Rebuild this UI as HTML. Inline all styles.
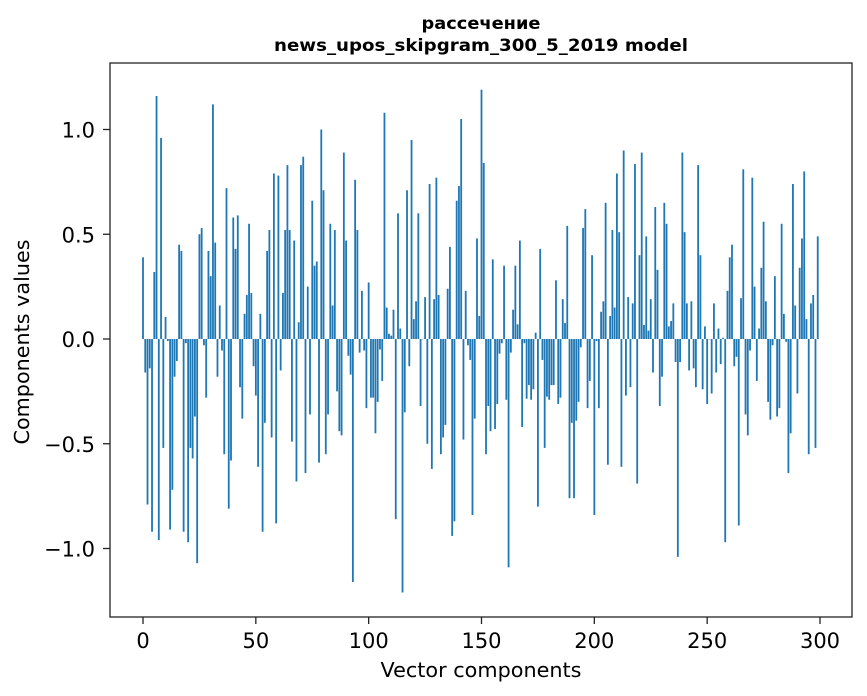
<!DOCTYPE html>
<html><head><meta charset="utf-8"><style>
html,body{margin:0;padding:0;background:#fff;}
svg{display:block;font-family:"DejaVu Sans","Liberation Sans",sans-serif;}
</style></head><body>
<svg id="chart" width="867" height="696" viewBox="0 0 867 696" xmlns="http://www.w3.org/2000/svg">
<rect x="0" y="0" width="867" height="696" fill="#fff"/>
<text x="481" y="29" text-anchor="middle" font-size="17" font-weight="bold" textLength="119" lengthAdjust="spacingAndGlyphs">рассечение</text>
<text x="481" y="51" text-anchor="middle" font-size="17" font-weight="bold" textLength="414" lengthAdjust="spacingAndGlyphs">news_upos_skipgram_300_5_2019 model</text>
<g id="bars"></g>
<g id="axes"></g>
<rect x="110" y="63" width="742" height="554" fill="none" stroke="#222" stroke-width="1.3"/>
<text x="481" y="677" text-anchor="middle" font-size="20" textLength="201" lengthAdjust="spacingAndGlyphs">Vector components</text>
<text x="29" y="342" text-anchor="middle" font-size="20" textLength="205" lengthAdjust="spacingAndGlyphs" transform="rotate(-90 29 342)">Components values</text>
</svg>
<script>
const values = [
0.39,-0.16,-0.79,-0.14,-0.92,0.32,1.16,-0.96,0.96,-0.52,
0.105,-0.01,-0.91,-0.72,-0.18,-0.105,0.45,0.42,-0.92,-0.02,
-0.97,-0.52,-0.57,-0.37,-1.07,0.50,0.53,-0.03,-0.28,0.42,
0.30,1.12,0.46,-0.18,0.16,-0.055,-0.55,0.72,-0.81,-0.58,
0.58,0.43,0.59,-0.23,-0.38,0.12,0.21,0.55,0.22,-0.13,
-0.27,-0.61,0.12,-0.92,-0.40,0.42,0.52,-0.47,0.79,-0.88,
0.78,-0.15,0.22,0.52,0.83,0.52,-0.49,0.47,-0.68,0.08,
0.83,0.87,-0.64,0.25,-0.36,0.66,0.35,0.37,-0.59,1.00,
0.71,-0.55,-0.36,0.55,0.16,0.52,-0.25,-0.44,-0.46,0.89,
0.47,-0.08,-0.17,-1.16,0.76,0.52,-0.065,0.23,-0.055,-0.33,
0.27,-0.28,-0.28,-0.45,-0.30,-0.05,-0.20,1.08,0.15,0.025,
0.016,0.14,-0.86,0.60,0.05,-1.21,-0.35,0.71,-0.13,0.95,
0.095,0.18,0.60,-0.32,0.0,0.20,-0.50,0.74,-0.62,0.19,
0.77,0.21,-0.55,-0.47,-0.41,0.24,0.44,-0.94,-0.87,0.66,
0.73,1.05,-0.48,0.23,-0.03,-0.10,-0.84,-0.38,0.48,0.11,
1.19,0.84,-0.55,-0.32,-0.44,0.38,-0.43,-0.31,-0.07,-0.02,
0.35,-0.29,-1.09,-0.065,0.14,0.35,0.07,0.47,-0.42,-0.02,
-0.285,-0.22,-0.29,-0.24,0.03,-0.80,0.43,-0.10,-0.52,-0.275,
-0.29,-0.22,-0.22,0.28,-0.31,-0.28,0.19,0.076,0.54,-0.76,
-0.40,-0.76,-0.39,-0.30,-0.04,0.53,0.62,-0.33,-0.20,0.40,
-0.84,-0.01,-0.33,0.13,0.18,0.65,-0.60,0.11,0.52,0.15,
0.79,0.51,-0.61,0.90,-0.27,0.20,-0.23,0.17,0.835,-0.69,
0.40,0.89,0.067,0.49,0.04,0.19,-0.16,0.63,0.33,-0.32,
-0.18,0.65,0.55,0.06,0.086,0.17,-0.11,-1.04,-0.11,0.89,
0.51,0.17,-0.15,0.18,-0.14,-0.23,0.83,0.40,-0.24,0.06,
-0.31,0.0,-0.26,0.17,-0.16,0.05,-0.12,0.006,-0.97,0.23,
0.39,0.45,-0.13,-0.085,-0.89,0.195,0.81,-0.36,-0.46,-0.055,
0.77,0.25,-0.20,0.05,0.34,0.56,0.18,-0.30,-0.385,-0.03,
0.30,-0.37,-0.33,0.55,0.12,-0.013,-0.64,-0.45,0.74,0.16,
-0.26,0.34,0.48,0.80,0.095,-0.55,0.17,0.21,-0.52,0.49
];
const xTicks = [0,50,100,150,200,250,300];
const yTicks = [-1.0,-0.5,0.0,0.5,1.0];
const yTickLabels = ["\u22121.0","\u22120.5","0.0","0.5","1.0"];

const NS = "http://www.w3.org/2000/svg";
function xScale(i){ return 143 + i*(677/300); }
function yScale(v){ return 339 - v*209.5; }
const barW = 0.8*(677/300);
const bars = document.getElementById('bars');
values.forEach(function(v,i){
  const r = document.createElementNS(NS,'rect');
  const y0 = yScale(0), y1 = yScale(v);
  r.setAttribute('x', xScale(i)-barW/2);
  r.setAttribute('y', Math.min(y0,y1));
  r.setAttribute('width', barW);
  r.setAttribute('height', Math.max(Math.abs(y1-y0),0.3));
  r.setAttribute('fill', '#1f77b4');
  
  
  bars.appendChild(r);
});
const axes = document.getElementById('axes');
xTicks.forEach(function(t){
  const x = xScale(t);
  const l = document.createElementNS(NS,'line');
  l.setAttribute('x1',x); l.setAttribute('x2',x);
  l.setAttribute('y1',617); l.setAttribute('y2',624);
  l.setAttribute('stroke','#222'); l.setAttribute('stroke-width','1.3');
  
  
  axes.appendChild(l);
  const tx = document.createElementNS(NS,'text');
  tx.setAttribute('x',x); tx.setAttribute('y',648);
  tx.setAttribute('text-anchor','middle'); tx.setAttribute('font-size','21');
  tx.textContent = String(t);
  
  
  axes.appendChild(tx);
});
yTicks.forEach(function(t,k){
  const y = yScale(t);
  const l = document.createElementNS(NS,'line');
  l.setAttribute('x1',103); l.setAttribute('x2',110);
  l.setAttribute('y1',y); l.setAttribute('y2',y);
  l.setAttribute('stroke','#222'); l.setAttribute('stroke-width','1.3');
  
  
  axes.appendChild(l);
  const tx = document.createElementNS(NS,'text');
  tx.setAttribute('x',95); tx.setAttribute('y',y+8);
  tx.setAttribute('text-anchor','end'); tx.setAttribute('font-size','21');
  tx.textContent = yTickLabels[k];
  
  
  axes.appendChild(tx);
});
</script>
</body></html>
